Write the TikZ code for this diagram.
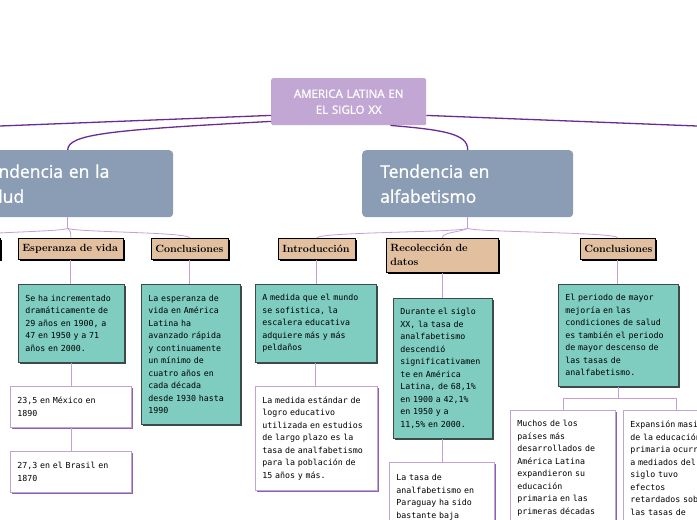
\documentclass[tikz,border=0pt]{standalone}
\usepackage{fontspec}
\usetikzlibrary{shadows}
\newfontfamily\mapsans{Open Sans}
\newfontfamily\maphead{Open Sans}[FakeBold=1.2]
\newfontfamily\mapmono{DejaVu Sans Mono}
\definecolor{rootfill}{HTML}{C2A6D4}
\definecolor{topicfill}{HTML}{8B9DB4}
\definecolor{tagfill}{HTML}{E2BF9F}
\definecolor{tealfill}{HTML}{7ECDC0}
\definecolor{tealline}{HTML}{3E4A48}
\definecolor{noteline}{HTML}{C0A4D8}
\definecolor{noteshadow}{HTML}{8A62B0}
\definecolor{mainlink}{HTML}{6A2B95}
\definecolor{sublink}{HTML}{C49FDC}
\tikzset{
  box/.style={anchor=north west, inner ysep=0pt, align=left},
  rootbox/.style={box, fill=rootfill, rounded corners=2pt, text=white, align=center, inner xsep=4pt,
    font=\maphead\fontsize{11.5}{16}\selectfont},
  topicbox/.style={box, fill=topicfill, rounded corners=4pt, text=white, inner xsep=18pt,
    font=\maphead\fontsize{17.5}{25}\selectfont},
  tagbox/.style={box, fill=tagfill, draw=black, line width=0.6pt, inner xsep=4pt,
    font=\fontsize{10.5}{14}\selectfont\bfseries,
    drop shadow={shadow xshift=2pt, shadow yshift=-2pt, fill=black, opacity=1}},
  tealbox/.style={box, fill=tealfill, draw=tealline, line width=0.7pt, inner xsep=7pt,
    font=\mapmono\fontsize{8.3}{12.5}\selectfont,
    drop shadow={shadow xshift=2pt, shadow yshift=-2pt, fill=tealline, opacity=1}},
  notebox/.style={box, fill=white, draw=noteline, line width=0.8pt, inner xsep=7pt,
    font=\mapmono\fontsize{8.3}{12.5}\selectfont,
    drop shadow={shadow xshift=1.5pt, shadow yshift=-1.5pt, fill=noteshadow, opacity=1}},
  mainlink/.style={draw=mainlink, line width=1.3pt},
  sublink/.style={draw=sublink, line width=0.8pt}
}
\begin{document}
\begin{tikzpicture}[x=1pt,y=-1pt]
\useasboundingbox (0,0) rectangle (697,520);
\clip (0,0) rectangle (697,520);
\fill[white] (0,0) rectangle (697,520);

% centre and main topics
\node[rootbox, text width=147pt, minimum height=47pt] (root) at (271,78) {AMERICA LATINA EN\\EL SIGLO XX};
\node[topicbox, text width=175pt, minimum height=67pt] (salud) at (-38,150) {Tendencia en la\\salud};
\node[topicbox, text width=175pt, minimum height=67pt] (alfa) at (362,150) {Tendencia en\\alfabetismo};
\coordinate (leftend) at (0,126);
\coordinate (rightend) at (697,126);

% tags
\node[tagbox, text width=72pt, minimum height=21pt] (tagL) at (-80,238) {};
\node[tagbox, text width=97pt, minimum height=21pt] (esp) at (18,238) {Esperanza de vida};
\node[tagbox, text width=69pt, minimum height=21pt] (conclS) at (151,238) {Conclusiones};
\node[tagbox, text width=69pt, minimum height=21pt] (intro) at (278,238) {Introducción};
\node[tagbox, text width=104pt, minimum height=34pt] (recol) at (386,238) {Recolección de\\datos};
\node[tagbox, text width=67pt, minimum height=21pt] (conclA) at (580,238) {Conclusiones};

% teal boxes
\node[tealbox, text width=92pt, minimum height=78pt] (incr) at (18,284)
  {Se ha incrementado\\dramáticamente de\\29 años en 1900, a\\47 en 1950 y a 71\\años en 2000.};
\node[tealbox, text width=85pt, minimum height=140pt] (avance) at (141,284)
  {La esperanza de\\vida en América\\Latina ha\\avanzado rápida\\y continuamente\\un mínimo de\\cuatro años en\\cada década\\desde 1930 hasta\\1990};
\node[tealbox, text width=107pt, minimum height=78pt] (mundo) at (255,284)
  {A medida que el mundo\\se sofistica, la\\escalera educativa\\adquiere más y más\\peldaños};
\node[tealbox, text width=85pt, minimum height=140pt] (durante) at (393,298)
  {Durante el siglo\\XX, la tasa de\\analfabetismo\\descendió\\significativamen\\te en América\\Latina, de 68,1\%\\en 1900 a 42,1\%\\en 1950 y a\\11,5\% en 2000.};
\node[tealbox, text width=106pt, minimum height=102pt] (periodo) at (558,284)
  {El periodo de mayor\\mejoría en las\\condiciones de salud\\es también el periodo\\de mayor descenso de\\las tasas de\\analfabetismo.};

% white notes
\node[notebox, text width=107pt, minimum height=41pt] (mexico) at (10,386) {23,5 en México en\\1890};
\node[notebox, text width=107pt, minimum height=41pt] (brasil) at (10,451) {27,3 en el Brasil en\\1870};
\node[notebox, text width=108pt, minimum height=104pt] (medida) at (255,386)
  {La medida estándar de\\logro educativo\\utilizada en estudios\\de largo plazo es la\\tasa de analfabetismo\\para la población de\\15 años y más.};
\node[notebox, text width=91pt, minimum height=70pt] (paraguay) at (389,462)
  {La tasa de\\analfabetismo en\\Paraguay ha sido\\bastante baja};
\node[notebox, text width=91pt, minimum height=116pt] (muchos) at (510,410)
  {Muchos de los\\países más\\desarrollados de\\América Latina\\expandieron su\\educación\\primaria en las\\primeras décadas};
\node[notebox, text width=92pt, minimum height=116pt] (masiva) at (623,410)
  {Expansión masiva\\de la educación\\primaria ocurrida\\a mediados del\\siglo tuvo\\efectos\\retardados sobre\\las tasas de};

% main connectors
\draw[mainlink] ([yshift=10pt]root.south west) -- (leftend);
\draw[mainlink] ([yshift=4pt]root.south west) .. controls (110,130) and (68,134) .. (salud.north);
\draw[mainlink] ([yshift=10pt]root.south east) -- (rightend);
\draw[mainlink] ([xshift=-36pt]root.south east) .. controls (445,130) and (468,134) .. (alfa.north);

% sub connectors
\draw[sublink] (salud.south) -- ++(0,11) coordinate (sfork);
\draw[sublink] (sfork) .. controls +(-10,4) and +(0,-6) .. (tagL.north);
\draw[sublink] (sfork) .. controls +(3,3) and +(0,-6) .. (esp.north);
\draw[sublink] (sfork) .. controls +(10,4) and +(0,-6) .. (conclS.north);
\draw[sublink] (alfa.south) -- ++(0,11) coordinate (afork);
\draw[sublink] (afork) .. controls +(-10,4) and +(0,-6) .. (intro.north);
\draw[sublink] (afork) .. controls +(-8,4) and +(0,-6) .. (recol.north);
\draw[sublink] (afork) .. controls +(10,4) and +(0,-6) .. (conclA.north);

\draw[sublink] (esp.south) -- (esp.south |- incr.north);
\draw[sublink] (incr.south) -- (incr.south |- mexico.north);
\draw[sublink] (mexico.south) -- (mexico.south |- brasil.north);
\draw[sublink] (conclS.south) -- (conclS.south |- avance.north);
\draw[sublink] (intro.south) -- (intro.south |- mundo.north);
\draw[sublink] (mundo.south) -- (mundo.south |- medida.north);
\draw[sublink] (recol.south) -- (recol.south |- durante.north);
\draw[sublink] (durante.south) -- (durante.south |- paraguay.north);
\draw[sublink] (conclA.south) -- (conclA.south |- periodo.north);
\draw[sublink] (periodo.south) -- ++(0,12) -| (muchos.north);
\draw[sublink] (periodo.south) -- ++(0,12) -| (masiva.north);
\end{tikzpicture}
\end{document}
